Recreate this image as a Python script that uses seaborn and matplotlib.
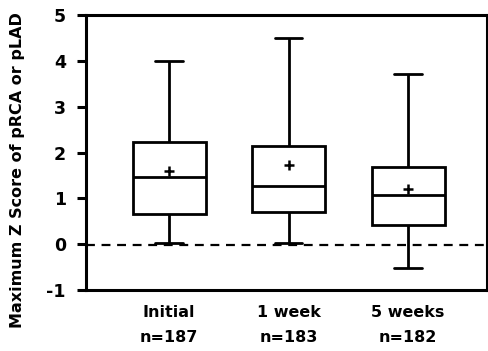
import numpy as np
import pandas as pd
import matplotlib
matplotlib.use("Agg")
import matplotlib.pyplot as plt
import seaborn as sns

# ── Data ─────────────────────────────────────────────────────
groups = ["Initial", "1 week", "5 weeks"]
counts = [187, 183, 182]
whisker_low = [0.03, 0.03, -0.52]
q1 = [0.65, 0.71, 0.41]
median = [1.46, 1.27, 1.07]
q3 = [2.23, 2.15, 1.69]
whisker_high = [4.00, 4.49, 3.71]
means = [1.60, 1.73, 1.20]
baseline = -0.03

# five-number summary per group; with whis=(0, 100) seaborn reproduces it exactly
rows = []
for i, g in enumerate(groups):
    for v in (whisker_low[i], q1[i], median[i], q3[i], whisker_high[i]):
        rows.append({"group": g, "z": v})
df = pd.DataFrame(rows)

# ── Style ────────────────────────────────────────────────────
sns.set_style("white")
plt.rcParams["font.family"] = ["DejaVu Sans"]
plt.rcParams.update({"font.weight": "bold", "text.color": "black",
                     "xtick.color": "black", "ytick.color": "black",
                     "axes.labelcolor": "black", "axes.unicode_minus": False})

fig = plt.figure(figsize=(4.89, 3.51), dpi=100)
ax = fig.add_axes([0.176, 0.174, 0.82, 0.783])

lw = 2.0
sns.boxplot(data=df, x="group", y="z", order=groups, whis=(0, 100), width=0.61,
            color="white", linecolor="black", linewidth=lw, fliersize=0,
            capwidths=0.23, ax=ax)

# means as '+'
ax.plot(range(len(groups)), means, linestyle="none", marker="+",
        markersize=7, mew=1.8, color="black", zorder=5)

ax.axhline(baseline, color="black", linestyle=(0, (4, 3)), linewidth=1.6, zorder=1)

ax.set_ylim(-1, 5)
ax.set_xlim(-0.695, 2.66)
ax.set_yticks(range(-1, 6))
ax.set_xticks(range(len(groups)))
ax.set_xticklabels([f"{g}\nn={n}" for g, n in zip(groups, counts)],
                   fontsize=11.5, fontweight="bold", linespacing=1.8)
ax.tick_params(axis="x", length=0, pad=11)
ax.tick_params(axis="y", left=True, length=6.5, width=2.2, pad=8, labelsize=12.5)
for lab in ax.get_yticklabels():
    lab.set_fontweight("bold")

ax.set_xlabel("")
ax.set_ylabel("Maximum Z Score of pRCA or pLAD", fontsize=11.5, fontweight="bold")
ax.yaxis.set_label_coords(-0.152, 0.436)

for s in ax.spines.values():
    s.set_visible(True)
    s.set_color("black")
    s.set_linewidth(2.2)

fig.savefig("out.png", dpi=100, facecolor="white")
